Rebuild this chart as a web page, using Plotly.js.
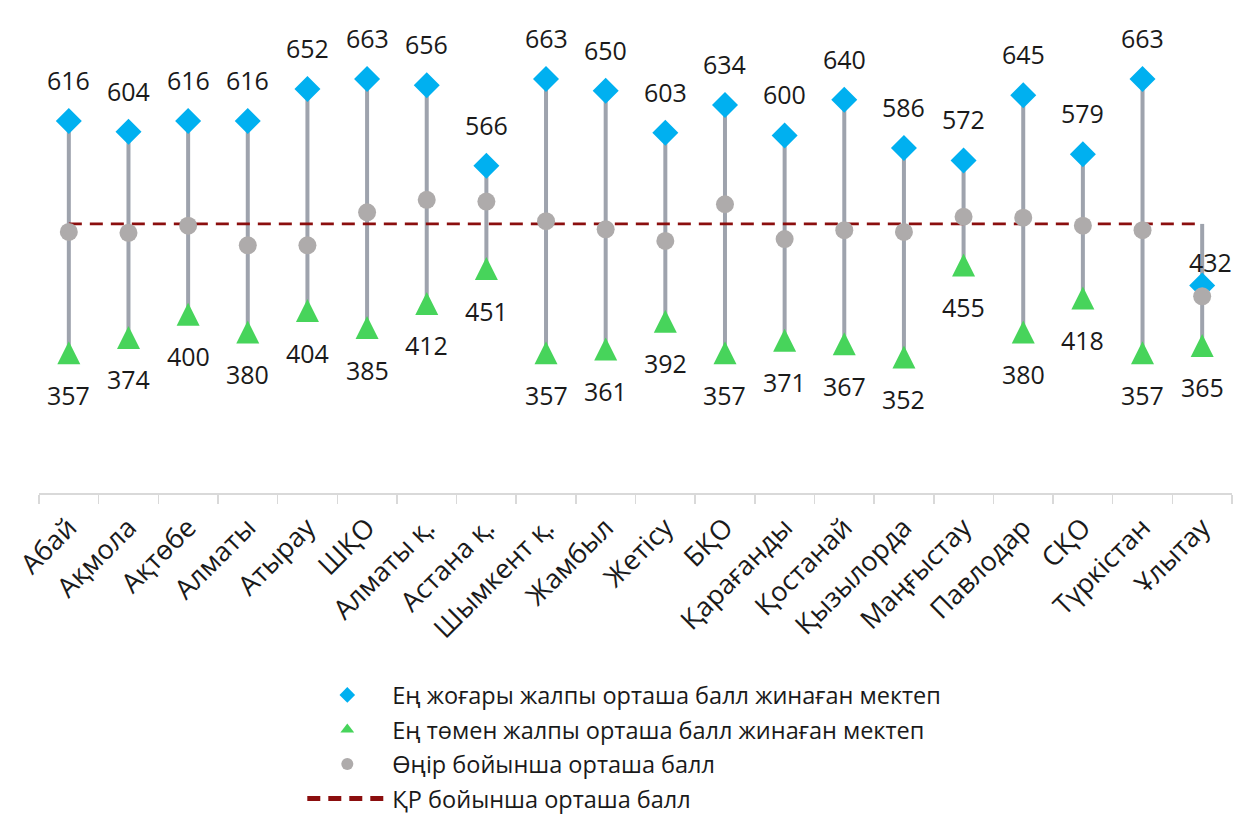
<!DOCTYPE html>
<html>
<head>
<meta charset="utf-8">
<script src="https://cdn.plot.ly/plotly-3.0.1.min.js"></script>
<style>
html,body{margin:0;padding:0;background:#ffffff;}
#chart{width:1238px;height:814px;}
</style>
</head>
<body>
<div id="chart"></div>
<script>
// ---- data ----
const regions = ["Абай","Ақмола","Ақтөбе","Алматы","Атырау","ШҚО","Алматы қ.","Астана қ.","Шымкент қ.","Жамбыл","Жетісу","БҚО","Қарағанды","Қостанай","Қызылорда","Маңғыстау","Павлодар","СҚО","Түркістан","Ұлытау"];
const maxScores = [616,604,616,616,652,663,656,566,663,650,603,634,600,640,586,572,645,579,663,432];
const minScores = [357,374,400,380,404,385,412,451,357,361,392,357,371,367,352,455,380,418,357,365];
const regionAvg = [492,491,499,477,477,514,528,526,504,495,482,523,484,494,492,509,508,499,494,420];
const nationalAvg = [501,501,501,501,501,501,501,501,501,501,501,501,501,501,501,501,501,501,501,501];

const seriesNames = {
  max: "Ең жоғары жалпы орташа балл жинаған мектеп",
  min: "Ең төмен жалпы орташа балл жинаған мектеп",
  avg: "Өңір бойынша орташа балл",
  nat: "ҚР бойынша орташа балл"
};

// ---- styles ----
const FONT = "Open Sans, Noto Sans, sans-serif";
const TXT = "#1a1a1a";
const C_MAX = "#00B0F0";
const C_MIN = "#47D45B";
const C_AVG = "#AEABAB";
const C_NAT = "#8B0E0E";
const C_HL = "#9EA3AD";

const Y_RANGE = [200, 700];
const PLOT_H = 447;                     // px, plot area height
const TRI_SIZE = 23;                    // px, arrow-up marker (tip at point)
const triShift = (TRI_SIZE / 2) * (Y_RANGE[1] - Y_RANGE[0]) / PLOT_H; // centre the triangle on its value

// high-low lines spanning all series (as in the source chart)
const hlX = [], hlY = [];
regions.forEach((r, i) => {
  const vals = [maxScores[i], minScores[i], regionAvg[i], nationalAvg[i]];
  hlX.push(r, r, null);
  hlY.push(Math.max(...vals), Math.min(...vals), null);
});

const traces = [
  {x: hlX, y: hlY, type: "scatter", mode: "lines", line: {color: C_HL, width: 4},
   showlegend: false, hoverinfo: "skip"},
  {x: regions, y: maxScores, name: seriesNames.max, type: "scatter", mode: "markers",
   marker: {symbol: "diamond", size: 20, color: C_MAX}, legendrank: 1, legendgroup: "a"},
  {x: regions, y: nationalAvg, name: seriesNames.nat, type: "scatter", mode: "lines",
   line: {color: C_NAT, width: 2.6, dash: "13px,8px"}, legendrank: 4, legendgroup: "d"},
  {x: regions, y: regionAvg, name: seriesNames.avg, type: "scatter", mode: "markers",
   marker: {symbol: "circle", size: 18, color: C_AVG}, legendrank: 3, legendgroup: "c"},
  // min markers (drawn on a shifted overlay axis so the triangle is centred on its value)
  {x: regions, y: minScores, name: seriesNames.min, type: "scatter", mode: "markers", yaxis: "y2",
   marker: {symbol: "arrow-up", size: TRI_SIZE, color: C_MIN}, showlegend: false, legendgroup: "b"},
  // legend entry for min series
  {x: [null], y: [null], name: seriesNames.min, type: "scatter", mode: "markers",
   marker: {symbol: "triangle-up", size: 12, color: C_MIN}, legendrank: 2, legendgroup: "b"}
];

// label offsets (pixels)
const MAX_SHIFT = 41, MIN_SHIFT = -42;
const labelOverride = {19: {max: {xshift: 8, yshift: 24}}};

const annotations = [];
regions.forEach((r, i) => {
  const ov = labelOverride[i] || {};
  const om = ov.max || {};
  annotations.push({x: r, y: maxScores[i], text: String(maxScores[i]), showarrow: false,
    xanchor: "center", yanchor: "middle", xshift: om.xshift || 0, yshift: om.yshift || MAX_SHIFT,
    font: {family: FONT, size: 25, color: TXT}});
  const on = ov.min || {};
  annotations.push({x: r, y: minScores[i], text: String(minScores[i]), showarrow: false,
    xanchor: "center", yanchor: "middle", xshift: on.xshift || 0, yshift: on.yshift || MIN_SHIFT,
    font: {family: FONT, size: 25, color: TXT}});
});

const layout = {
  width: 1238, height: 814,
  margin: {l: 39, r: 6, t: 46, b: 321, autoexpand: false},
  paper_bgcolor: "#ffffff", plot_bgcolor: "#ffffff",
  font: {family: FONT, color: TXT},
  showlegend: true,
  xaxis: {
    type: "category", range: [-0.5, 19.5], tickson: "boundaries",
    ticks: "outside", ticklen: 9, tickwidth: 1.5, tickcolor: "#D9D9D9",
    showline: true, linecolor: "#D9D9D9", linewidth: 2,
    showgrid: false, zeroline: false, tickangle: -45, automargin: false,
    ticklabelstandoff: 6,
    tickfont: {family: FONT, size: 27, color: TXT}, fixedrange: true
  },
  yaxis: {
    range: Y_RANGE, visible: false, showgrid: false, zeroline: false, fixedrange: true
  },
  yaxis2: {
    range: [Y_RANGE[0] - triShift, Y_RANGE[1] - triShift], overlaying: "y",
    visible: false, showgrid: false, zeroline: false, fixedrange: true
  },
  legend: {
    orientation: "v", x: 0.2207, xanchor: "left", y: -0.403, yanchor: "top",
    font: {family: FONT, size: 23.5, color: TXT}, itemwidth: 80, itemsizing: "constant",
    traceorder: "grouped", tracegroupgap: 1, bgcolor: "rgba(0,0,0,0)"
  },
  annotations: annotations
};

Plotly.newPlot("chart", traces, layout, {displayModeBar: false, staticPlot: true});
</script>
</body>
</html>
